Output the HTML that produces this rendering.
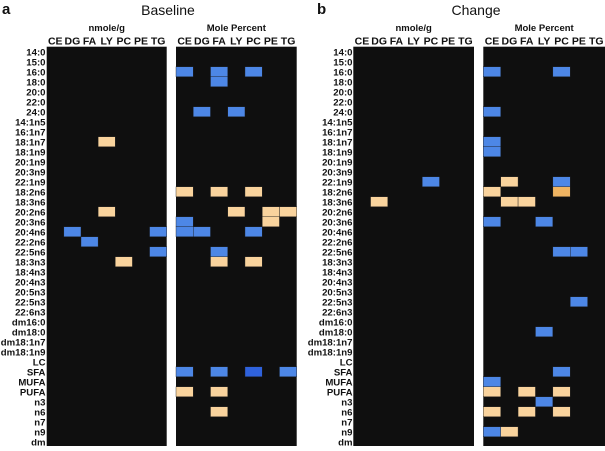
<!DOCTYPE html>
<html><head><meta charset="utf-8"><style>
body{margin:0;background:#fff;}
svg text{font-family:"Liberation Sans",Arial,sans-serif;}
</style></head><body>
<svg id="fig" width="605" height="446" xmlns="http://www.w3.org/2000/svg"></svg>
<script>
const rows=["14:0","15:0","16:0","18:0","20:0","22:0","24:0","14:1n5","16:1n7","18:1n7","18:1n9","20:1n9","20:3n9","22:1n9","18:2n6","18:3n6","20:2n6","20:3n6","20:4n6","22:2n6","22:5n6","18:3n3","18:4n3","20:4n3","20:5n3","22:5n3","22:6n3","dm16:0","dm18:0","dm18:1n7","dm18:1n9","LC","SFA","MUFA","PUFA","n3","n6","n7","n9","dm"];
const cols=["CE","DG","FA","LY","PC","PE","TG"];
// [row, col, value]  +1 increase (orange), -1 decrease (blue), ±2 stronger
const baseNmol=[[9,3,1],[16,3,1],[18,1,-1],[18,6,-1],[19,2,-1],[20,6,-1],[21,4,1]];
const baseMole=[[2,0,-1],[2,2,-1],[2,4,-1],[3,2,-1],[6,1,-1],[6,3,-1],[14,0,1],[14,2,1],[14,4,1],[16,3,1],[16,5,1],[16,6,1],[17,0,-1],[17,5,1],[18,0,-1],[18,1,-1],[18,4,-1],[20,2,-1],[21,2,1],[21,4,1],[32,0,-1],[32,2,-1],[32,4,-2],[32,6,-1],[34,0,1],[34,2,1],[36,2,1]];
const chgNmol=[[13,4,-1],[15,1,1]];
const chgMole=[[2,0,-1],[2,4,-1],[6,0,-1],[9,0,-1],[10,0,-1],[13,1,1],[13,4,-1],[14,0,1],[14,4,2],[15,1,1],[15,2,1],[17,0,-1],[17,3,-1],[20,4,-1],[20,5,-1],[25,5,-1],[28,3,-1],[32,4,-1],[33,0,-1],[34,0,1],[34,2,1],[34,4,1],[35,3,-1],[36,0,1],[36,2,1],[36,4,1],[38,0,-1],[38,1,1]];
const svg=document.getElementById('fig');
const NS="http://www.w3.org/2000/svg";
const Y0=46.7,RH=10;
function el(t,a,txt){const e=document.createElementNS(NS,t);for(const k in a)e.setAttribute(k,a[k]);if(txt!=null)e.textContent=txt;svg.appendChild(e);return e;}
function color(v){return v==-2?"#2f62dc":v<0?"#4d87e6":v==2?"#efb462":"#f9d39d";}
function yPos(r){return Y0+r*RH;}
function heat(x0,x1,data,title,name){
  const cw=(x1-x0)/cols.length;
  const bg=el('rect',{x:x0,y:Y0,width:x1-x0,height:rows.length*RH,fill:"#0f0f0f"});
  
  
  const t=el('text',{x:(x0+x1)/2,y:31,'font-size':9.5,'font-weight':'bold','text-anchor':'middle',fill:'#111'},title);
  
  
  cols.forEach((c,i)=>{
    const ct=el('text',{x:x0+cw*(i+0.5),y:44.5,'font-size':10.5,'font-weight':'bold','text-anchor':'middle',fill:'#111'},c);
    
    
  });
  data.forEach(d=>{
    const r=el('rect',{x:x0+d[1]*cw,y:yPos(d[0]),width:cw,height:RH,fill:color(d[2]),stroke:'#1a1a1a','stroke-width':0.4});
    
    
  });
}
function labels(xr){
  rows.forEach((r,i)=>{
    const t=el('text',{x:xr,y:yPos(i)+8.6,'font-size':9.6,'font-weight':'bold','text-anchor':'end',fill:'#111'},r);
    
    
  });
}
labels(45.5);labels(352.5);
heat(46.7,166.7,baseNmol,"nmole/g","baseline-nmol");
heat(176,296.7,baseMole,"Mole Percent","baseline-mole");
heat(353.3,474,chgNmol,"nmole/g","change-nmol");
heat(483.3,605,chgMole,"Mole Percent","change-mole");
let t;
t=el('text',{x:2,y:14,'font-size':15,'font-weight':'bold',fill:'#111'},"a");

t=el('text',{x:168,y:15,'font-size':14,'text-anchor':'middle',fill:'#111'},"Baseline");

t=el('text',{x:317,y:14,'font-size':15,'font-weight':'bold',fill:'#111'},"b");

t=el('text',{x:476,y:15,'font-size':14,'text-anchor':'middle',fill:'#111'},"Change");

</script>
</body></html>
